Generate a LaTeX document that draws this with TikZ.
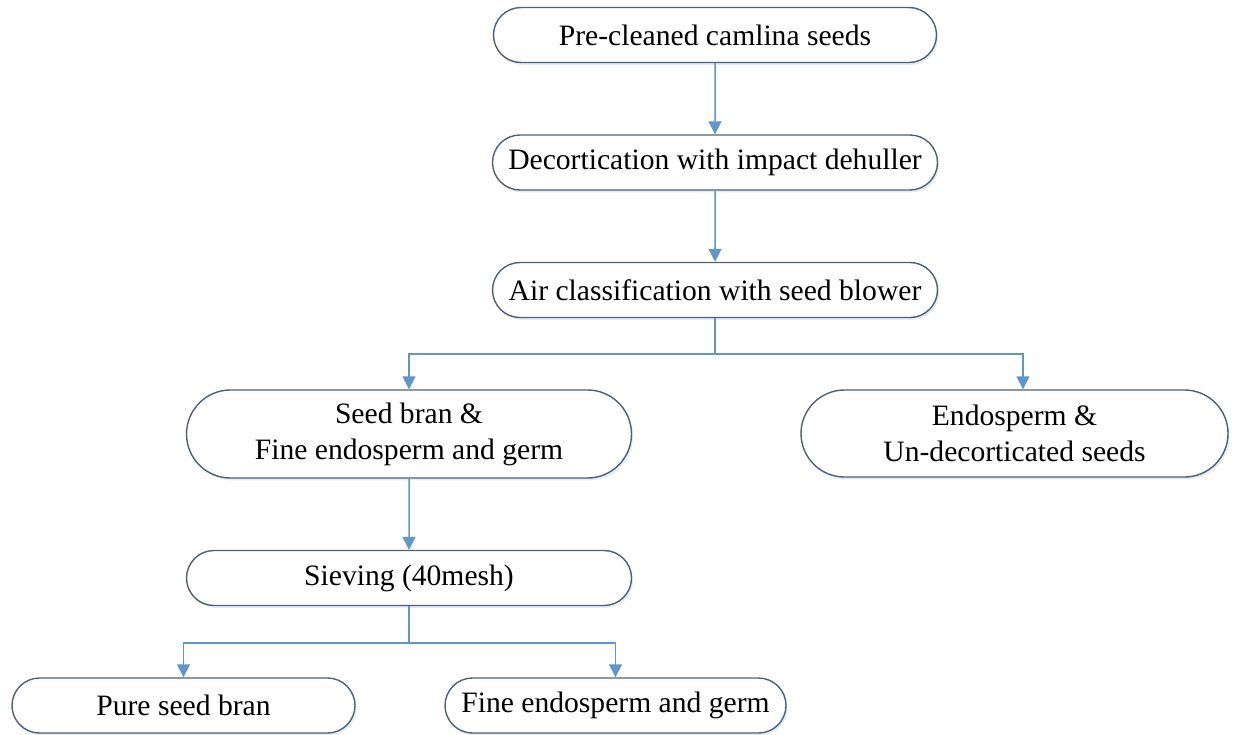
\documentclass[tikz,border=0pt]{standalone}
\usepackage{fontspec}
\setmainfont{Liberation Serif}
\usetikzlibrary{shapes.misc,arrows.meta,shadows}

\begin{document}
\begin{tikzpicture}[
        x=0.5pt, y=-0.5pt,
    ]

    \definecolor{boxedge}{RGB}{80,96,116}
    \definecolor{flowblue}{RGB}{96,150,204}

    \tikzstyle{stage} = [rounded rectangle, draw=boxedge, line width=0.7pt, fill=white,
                         minimum height=27.5pt, inner sep=0pt, align=center,
                         font=\fontsize{14.8}{18}\selectfont,
                         drop shadow={shadow xshift=0.8pt, shadow yshift=-1.2pt, opacity=0.18, fill=flowblue}];
    \tikzstyle{flow} = [draw=flowblue, line width=0.75pt, -{Triangle[length=6.5pt,width=6.5pt]}];

    \useasboundingbox (0,0) rectangle (1241,734);

    % Nodes
    \node[stage, minimum width=221.5pt] (clean) at (715,35) {Pre-cleaned camlina seeds};
    \node[stage, minimum width=222.5pt] (decort) at (715,162.5) {Decortication with impact dehuller};
    \node[stage, minimum width=222.5pt] (aircls) at (715,290) {Air classification with seed blower};
    \node[stage, minimum width=222.5pt, minimum height=44pt] (bran) at (409,434) {Seed bran \&\\Fine endosperm and germ};
    \node[stage, minimum width=213.5pt, minimum height=43.5pt] (endo) at (1014.5,433.5) {Endosperm \&\\Un-decorticated seeds};
    \node[stage, minimum width=222.5pt] (sieve) at (409,578) {Sieving (40mesh)};
    \node[stage, minimum width=171.5pt] (pure) at (183.5,705.5) {Pure seed bran};
    \node[stage, minimum width=170.5pt] (fine) at (615.5,705.5) {Fine endosperm and germ};

    % Arrows
    \draw[flow] (clean) -- (decort);
    \draw[flow] (decort) -- (aircls);
    \draw[flow] (aircls.south) -- ++(0,36) coordinate (split1) -| (bran.north);
    \draw[flow] (split1) -| ([xshift=4.25pt]endo.north);
    \draw[flow] (bran) -- (sieve);

    % Split after sieving
    \draw[flow] (sieve.south) -- ++(0,37) coordinate (split2) -| (pure.north);
    \draw[flow] (split2) -| (fine.north);

\end{tikzpicture}
\end{document}
